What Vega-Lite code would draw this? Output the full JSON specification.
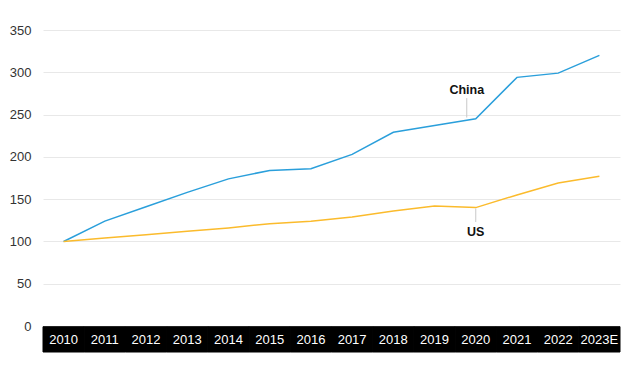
{
  "$schema": "https://vega.github.io/schema/vega-lite/v6.json",
  "autosize": "none",
  "width": 577,
  "height": 322,
  "padding": {"left": 43, "top": 30, "right": 20, "bottom": 15},
  "background": "white",
  "config": {
    "view": {"stroke": null},
    "font": "Liberation Sans"
  },
  "datasets": {
    "main": [
      {"year": "2010", "series": "China", "value": 100},
      {"year": "2011", "series": "China", "value": 124},
      {"year": "2012", "series": "China", "value": 141},
      {"year": "2013", "series": "China", "value": 158},
      {"year": "2014", "series": "China", "value": 174},
      {"year": "2015", "series": "China", "value": 184},
      {"year": "2016", "series": "China", "value": 186},
      {"year": "2017", "series": "China", "value": 203},
      {"year": "2018", "series": "China", "value": 229},
      {"year": "2019", "series": "China", "value": 237},
      {"year": "2020", "series": "China", "value": 245},
      {"year": "2021", "series": "China", "value": 294},
      {"year": "2022", "series": "China", "value": 299},
      {"year": "2023E", "series": "China", "value": 320},
      {"year": "2010", "series": "US", "value": 100},
      {"year": "2011", "series": "US", "value": 104},
      {"year": "2012", "series": "US", "value": 108},
      {"year": "2013", "series": "US", "value": 112},
      {"year": "2014", "series": "US", "value": 116},
      {"year": "2015", "series": "US", "value": 121},
      {"year": "2016", "series": "US", "value": 124},
      {"year": "2017", "series": "US", "value": 129},
      {"year": "2018", "series": "US", "value": 136},
      {"year": "2019", "series": "US", "value": 142},
      {"year": "2020", "series": "US", "value": 140},
      {"year": "2021", "series": "US", "value": 155},
      {"year": "2022", "series": "US", "value": 169},
      {"year": "2023E", "series": "US", "value": 177}
    ]
  },
  "data": {"name": "main"},
  "encoding": {
    "x": {
      "field": "year",
      "type": "ordinal",
      "scale": {"type": "band", "paddingInner": 0, "paddingOuter": 0},
      "axis": null
    }
  },
  "layer": [
    {
      "mark": {"type": "rule", "opacity": 0},
      "encoding": {
        "y": {
          "field": "value",
          "type": "quantitative",
          "scale": {"domain": [-30.7, 350], "nice": false, "zero": false},
          "axis": {
            "values": [0, 50, 100, 150, 200, 250, 300, 350],
            "title": null,
            "domain": false,
            "ticks": false,
            "grid": true,
            "gridColor": "#e8e8e8",
            "gridWidth": 1,
            "labelColor": "#333333",
            "labelFontSize": 13,
            "labelPadding": 12,
            "labelFont": "Liberation Sans"
          }
        }
      }
    },
    {
      "transform": [{"filter": "datum.series === 'China'"}],
      "mark": {"type": "rect", "color": "black", "stroke": "black", "strokeWidth": 1},
      "encoding": {
        "y": {"datum": -0.8},
        "y2": {"datum": -30.7}
      }
    },
    {
      "transform": [{"filter": "datum.series === 'China'"}],
      "mark": {"type": "text", "color": "white", "fontSize": 13, "baseline": "middle", "align": "center"},
      "encoding": {
        "y": {"datum": -16},
        "text": {"field": "year"}
      }
    },
    {
      "mark": {"type": "line", "strokeWidth": 1.5},
      "encoding": {
        "y": {"field": "value", "type": "quantitative"},
        "color": {
          "field": "series",
          "type": "nominal",
          "scale": {"domain": ["China", "US"], "range": ["#2a9fdb", "#fbbb2c"]},
          "legend": null
        }
      }
    },
    {
      "data": {"values": [{"year": "2020", "label": "China"}]},
      "layer": [
        {
          "mark": {"type": "rule", "color": "#c8c8c8", "strokeWidth": 1, "xOffset": -9},
          "encoding": {"y": {"datum": 269.5}, "y2": {"datum": 246.5}}
        },
        {
          "mark": {"type": "text", "fontSize": 12.5, "fontWeight": "bold", "color": "#111111", "dx": -9, "baseline": "middle"},
          "encoding": {"y": {"datum": 279}, "text": {"field": "label"}}
        }
      ]
    },
    {
      "data": {"values": [{"year": "2020", "label": "US"}]},
      "layer": [
        {
          "mark": {"type": "rule", "color": "#c8c8c8", "strokeWidth": 1},
          "encoding": {"y": {"datum": 139}, "y2": {"datum": 123}}
        },
        {
          "mark": {"type": "text", "fontSize": 12.5, "fontWeight": "bold", "color": "#111111", "baseline": "middle"},
          "encoding": {"y": {"datum": 111}, "text": {"field": "label"}}
        }
      ]
    }
  ]
}
